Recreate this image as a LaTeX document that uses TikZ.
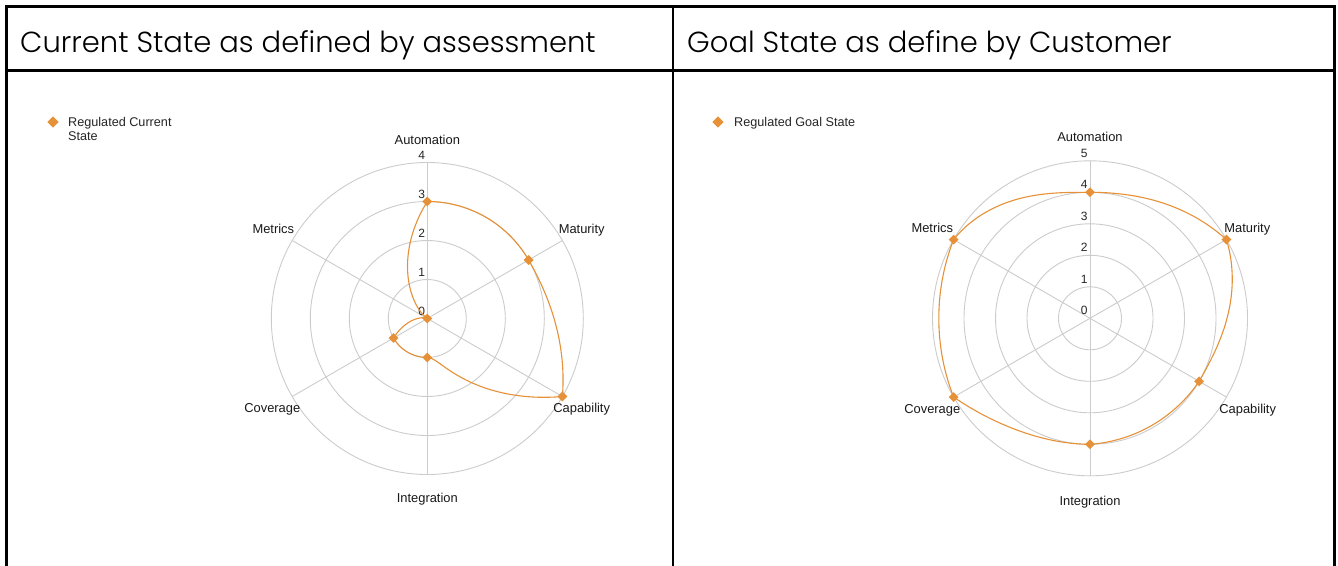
\documentclass[tikz,border=0pt]{standalone}
\usepackage{fontspec}
\setmainfont{Liberation Sans}
\newfontfamily\hdrfont{Poppins}[UprightFont=* Light]
\usetikzlibrary{shapes.geometric}
\definecolor{ser}{RGB}{230,145,56}
\definecolor{gridc}{RGB}{204,204,204}
\tikzset{
  border/.style={line width=2.2pt, black},
  hdr/.style={font=\hdrfont\fontsize{29}{35}\selectfont, inner sep=0pt, text=black},
  legendtxt/.style={font=\fontsize{12.65}{15}\selectfont, inner sep=0pt, text=black!85},
  axlabel/.style={font=\fontsize{12.9}{15}\selectfont, inner sep=0pt, anchor=base, text=black!90},
  tick/.style={font=\fontsize{12}{14}\selectfont, inner sep=0pt, text=black!85},
  gridline/.style={draw=gridc, line width=0.9pt},
  series/.style={draw=ser, line width=1.1pt, line join=round},
  mk/.style={diamond, aspect=1, fill=ser, draw=none, inner sep=0pt, minimum width=10pt, minimum height=10pt},
  lmk/.style={diamond, aspect=1, fill=ser, draw=none, inner sep=0pt, minimum width=11.5pt, minimum height=11.5pt}
}
% polar Hermite segment: #1 unit, #2 start angle, #3 r0, #4 r1, #5 m0, #6 m1
\newcommand\radseg[6]{%
  \draw[series] plot[domain=0:1, samples=60, variable=\x]
   ({#2-60*\x}:{#1*((#3)*(2*\x^3-3*\x^2+1)+(#4)*(3*\x^2-2*\x^3)+(#5)*(\x^3-2*\x^2+\x)+(#6)*(\x^3-\x^2))});}
\begin{document}
\begin{tikzpicture}[x=1pt,y=-1pt]
\useasboundingbox (0,0) rectangle (1338,565);
\fill[white] (0,0) rectangle (1338,565);

% table borders
\draw[border] (6.5,566) -- (6.5,6.5) -- (1334.5,6.5) -- (1334.5,566);
\draw[border] (6.5,70.5) -- (1334.5,70.5);
\draw[border] (673,6.5) -- (673,566);

% headers
\node[hdr, anchor=base west] (h1) at (20,52) {Current State as defined by assessment};
\node[hdr, anchor=base west] (h2) at (687,52) {Goal State as define by Customer};

% legends
\node[lmk] (lg1) at (53,122) {};
\node[legendtxt, anchor=base west] (lt1) at (68,126.5) {Regulated Current};
\node[legendtxt, anchor=base west] (lt1b) at (68,140.4) {State};
\node[lmk] (lg2) at (718,122) {};
\node[legendtxt, anchor=base west] (lt2) at (734,126.5) {Regulated Goal State};

% ---------- left chart ----------
\begin{scope}[shift={(427.3,318.5)}, y=1pt]
  \foreach \k in {1,...,4} \draw[gridline] (0,0) circle[radius=\k*39pt];
  \foreach \a in {90,30,...,-210} \draw[gridline] (0,0) -- (\a:156);
  \foreach \k in {0,...,4} \node[tick] at (-5.5,\k*39+7.5) {\k};
  \radseg{39}{90}{3}{3}{0}{0}
  \radseg{39}{30}{3}{4}{0}{2}
  \radseg{39}{-30}{4}{1}{-6}{0}
  \radseg{39}{-90}{1}{1}{0}{0}
  \radseg{39}{-150}{1}{0}{-2}{0}
  \radseg{39}{-210}{0}{3}{0}{5}
  \node[mk] (La) at (90:117) {};
  \node[mk] (Lm) at (30:117) {};
  \node[mk] (Lc) at (-30:156) {};
  \node[mk] (Li) at (-90:39) {};
  \node[mk] (Lv) at (-150:39) {};
  \node[mk] (Lt) at (0,0) {};
\end{scope}
\node[axlabel] (lA) at (427.3,144.6) {Automation};
\node[axlabel] (lM) at (581.7,233.9) {Maturity};
\node[axlabel] (lC) at (581.7,412.9) {Capability};
\node[axlabel] (lI) at (427.3,502.9) {Integration};
\node[axlabel] (lV) at (272.3,412.9) {Coverage};
\node[axlabel] (lT) at (273.3,233.9) {Metrics};

% ---------- right chart ----------
\begin{scope}[shift={(1090,318.3)}, y=1pt]
  \foreach \k in {1,...,5} \draw[gridline] (0,0) circle[radius=\k*31.5pt];
  \foreach \a in {90,30,...,-210} \draw[gridline] (0,0) -- (\a:157.5);
  \foreach \k in {0,...,5} \node[tick] at (-5.7,\k*31.5+7.5) {\k};
  \radseg{31.5}{90}{4}{5}{0}{1.7}
  \radseg{31.5}{30}{5}{4}{-1.2}{0}
  \radseg{31.5}{-30}{4}{4}{-0.3}{0.3}
  \radseg{31.5}{-90}{4}{5}{0}{2.5}
  \radseg{31.5}{-150}{5}{5}{-0.8}{0.8}
  \radseg{31.5}{-210}{5}{4}{-0.8}{0}
  \node[mk] (Ra) at (90:126) {};
  \node[mk] (Rm) at (30:157.5) {};
  \node[mk] (Rc) at (-30:126) {};
  \node[mk] (Ri) at (-90:126) {};
  \node[mk] (Rv) at (-150:157.5) {};
  \node[mk] (Rt) at (150:157.5) {};
\end{scope}
\node[axlabel] (rA) at (1090,141.3) {Automation};
\node[axlabel] (rM) at (1247.3,232.9) {Maturity};
\node[axlabel] (rC) at (1247.7,413.9) {Capability};
\node[axlabel] (rI) at (1090,505.6) {Integration};
\node[axlabel] (rV) at (932.3,413.9) {Coverage};
\node[axlabel] (rT) at (932.3,232.9) {Metrics};
\end{tikzpicture}
\end{document}
